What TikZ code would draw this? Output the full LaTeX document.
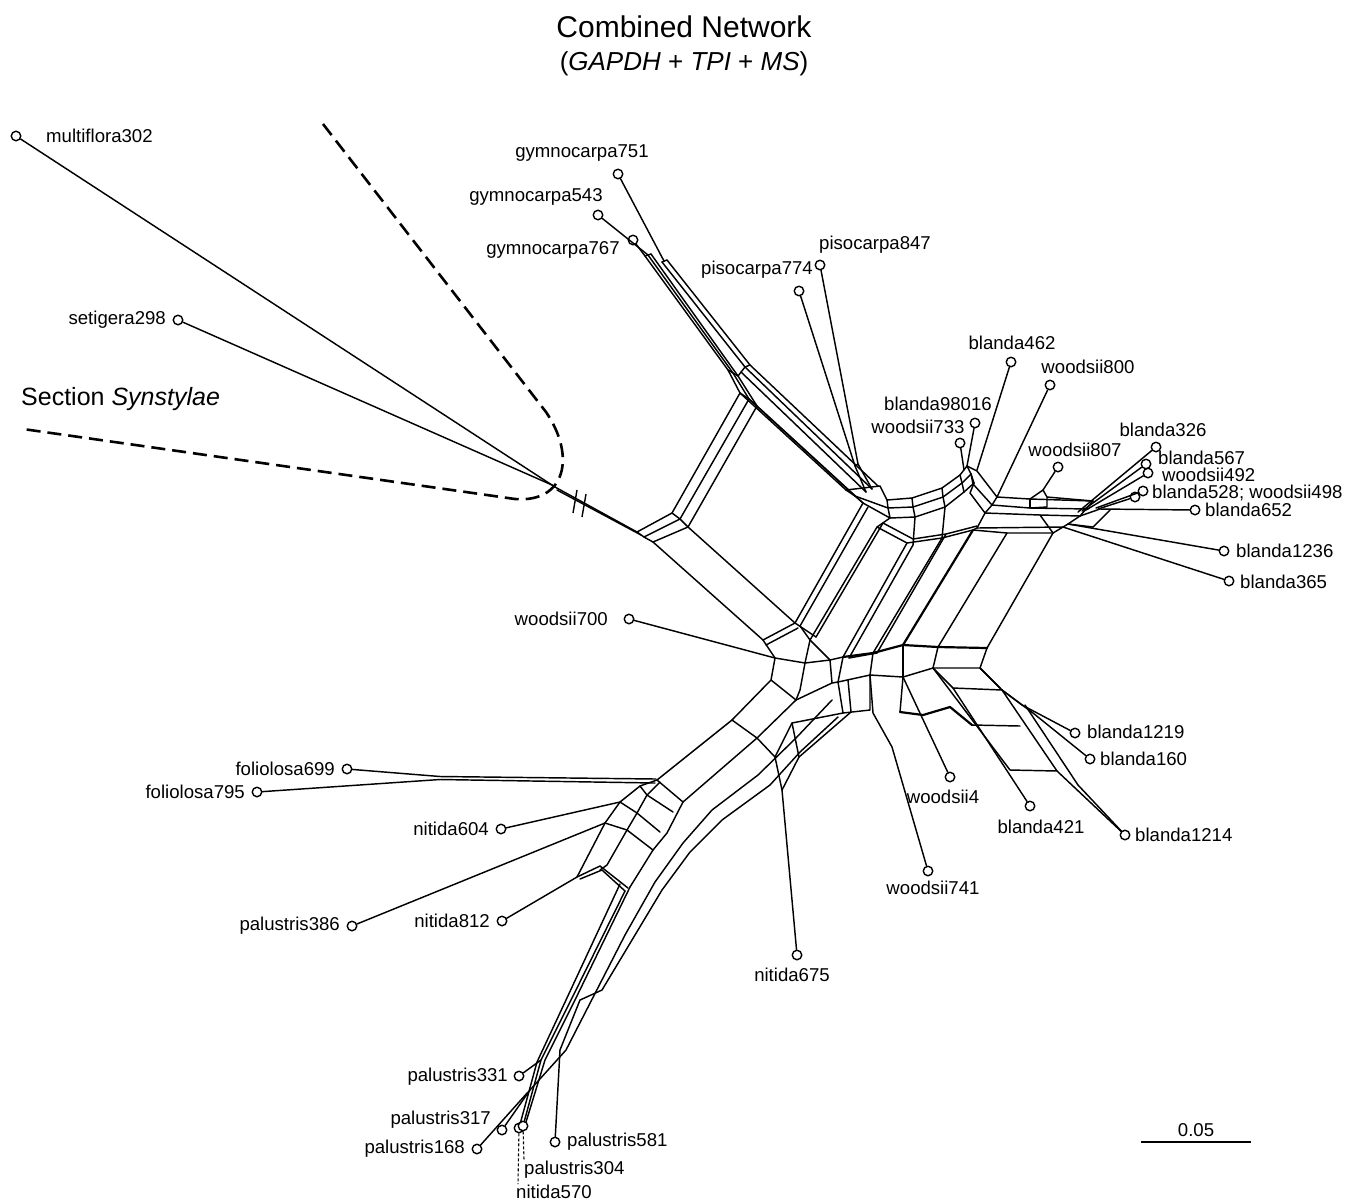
\documentclass[tikz,border=0pt]{standalone}
\usepackage{fontspec}
\setmainfont{Liberation Sans}
\begin{document}
\begin{tikzpicture}[x=1pt,y=-1pt,
  net/.style={line width=1.45pt,line join=round,line cap=round},
  thick net/.style={line width=2.2pt,line join=round,line cap=round},
  leaf/.style={circle,draw,fill=white,inner sep=0pt,minimum size=9.5pt,line width=1.4pt},
  lab/.style={font=\fontsize{18.6}{22}\selectfont,inner sep=0pt},
  leader/.style={line width=1.1pt,dash pattern=on 3pt off 2pt},
  synst/.style={line width=2.6pt,dash pattern=on 14pt off 7pt}]
\useasboundingbox (0,0) rectangle (1356,1203);
% titles
\node[font=\fontsize{30}{36}\selectfont,inner sep=0pt] (title) at (684,27) {Combined Network};
\node[font=\fontsize{26}{31}\selectfont,inner sep=0pt] (subtitle) at (684,64) {(\textit{GAPDH} + \textit{TPI} + \textit{MS})};
\node[font=\fontsize{25}{30}\selectfont,inner sep=0pt,anchor=west] (sect) at (21,399) {Section \textit{Synstylae}};
% leaves
\node[leaf] (m302) at (16,136) {};   \node[lab,anchor=west] (m302l) at (46,136) {multiflora302};
\node[leaf] (s298) at (178,320) {};  \node[lab,anchor=east] (s298l) at (166,320) {setigera298};
\node[leaf] (g751) at (618,174) {};  \node[lab] (g751l) at (582,153) {gymnocarpa751};
\node[leaf] (g543) at (598,215) {};  \node[lab] (g543l) at (536,197) {gymnocarpa543};
\node[leaf] (g767) at (633,240) {};  \node[lab] (g767l) at (553,250) {gymnocarpa767};
\node[leaf] (p847) at (820,265) {};  \node[lab] (p847l) at (875,245) {pisocarpa847};
\node[leaf] (p774) at (799,291) {};  \node[lab] (p774l) at (757,270) {pisocarpa774};
\node[leaf] (b462) at (1011,362) {}; \node[lab] (b462l) at (1012,343) {blanda462};
\node[leaf] (w800) at (1050,385) {}; \node[lab] (w800l) at (1088,367) {woodsii800};
\node[leaf] (b98016) at (975,423) {}; \node[lab] (b98016l) at (938,404) {blanda98016};
\node[leaf] (w733) at (960,443) {};  \node[lab] (w733l) at (918,427) {woodsii733};
\node[leaf] (w807) at (1058,467) {}; \node[lab] (w807l) at (1075,450) {woodsii807};
\node[leaf] (b326) at (1156,447) {}; \node[lab] (b326l) at (1163,430) {blanda326};
\node[leaf] (b567) at (1146,464) {}; \node[lab,anchor=west] (b567l) at (1158,457.5) {blanda567};
\node[leaf] (w492) at (1148,473) {}; \node[lab,anchor=west] (w492l) at (1162,475) {woodsii492};
\node[leaf] (b528) at (1143,491) {}; \node[leaf] (w498) at (1135,497) {};
\node[lab,anchor=west] (b528l) at (1152,492.5) {blanda528; woodsii498};
\node[leaf] (b652) at (1195,510) {}; \node[lab,anchor=west] (b652l) at (1205,510) {blanda652};
\node[leaf] (b1236) at (1224,551) {}; \node[lab,anchor=west] (b1236l) at (1236,551) {blanda1236};
\node[leaf] (b365) at (1229,581) {}; \node[lab,anchor=west] (b365l) at (1240,582) {blanda365};
\node[leaf] (w700) at (629,619) {};  \node[lab,anchor=east] (w700l) at (608,619) {woodsii700};
\node[leaf] (b1219) at (1075,733) {}; \node[lab,anchor=west] (b1219l) at (1087,732) {blanda1219};
\node[leaf] (b160) at (1090,759) {}; \node[lab,anchor=west] (b160l) at (1100,759) {blanda160};
\node[leaf] (b1214) at (1125,835) {}; \node[lab,anchor=west] (b1214l) at (1135,835) {blanda1214};
\node[leaf] (w4) at (950,777) {};    \node[lab] (w4l) at (943,797) {woodsii4};
\node[leaf] (b421) at (1030,806) {}; \node[lab] (b421l) at (1041,827) {blanda421};
\node[leaf] (w741) at (928,871) {};  \node[lab] (w741l) at (933,888) {woodsii741};
\node[leaf] (n675) at (797,955) {};  \node[lab] (n675l) at (792,975) {nitida675};
\node[leaf] (f699) at (347,769) {};  \node[lab,anchor=east] (f699l) at (335,769) {foliolosa699};
\node[leaf] (f795) at (257,792) {};  \node[lab,anchor=east] (f795l) at (245,792) {foliolosa795};
\node[leaf] (n604) at (501,829) {};  \node[lab,anchor=east] (n604l) at (489,829) {nitida604};
\node[leaf] (p386) at (352,926) {};  \node[lab,anchor=east] (p386l) at (340,926) {palustris386};
\node[leaf] (n812) at (502,921) {};  \node[lab,anchor=east] (n812l) at (490,921) {nitida812};
\node[leaf] (p331) at (519,1076) {}; \node[lab,anchor=east] (p331l) at (508,1077) {palustris331};
\node[leaf] (p317) at (502,1130) {}; \node[lab,anchor=east] (p317l) at (491,1120) {palustris317};
\node[leaf] (p168) at (477,1149) {}; \node[lab,anchor=east] (p168l) at (465,1149) {palustris168};
\node[leaf] (n570) at (519,1128) {}; \node[leaf] (p304) at (523,1126) {};
\node[lab,anchor=west] (p304l) at (524,1170) {palustris304};
\node[lab,anchor=west] (n570l) at (516,1192) {nitida570};
\node[leaf] (p581) at (555,1142) {}; \node[lab,anchor=west] (p581l) at (567,1142) {palustris581};
\coordinate (n570e) at (518,1184);
\coordinate (p304e) at (524,1160);
\draw[leader] (n570) -- (n570e);
\draw[leader] (p304) -- (p304e);
% scale bar
\coordinate (sb1) at (1141,1142); \coordinate (sb2) at (1251,1142);
\draw[line width=2.4pt] (sb1) -- (sb2);
\node[lab] (sbl) at (1196,1130) {0.05};
% Synstylae dashed boundary
\draw[synst] (323,124) -- (546,412) .. controls (576,456) and (566,503) .. (515,499) -- (23,429);
% root
\coordinate (A1) at (637,532); \coordinate (A2) at (644,537); \coordinate (A3) at (653,542);
\draw[net] (m302) -- (555,487) -- (A1);
\draw[net] (s298) -- (552,485) -- (555,487);
\draw[net] (557,490) -- (641,535);
\draw[line width=1.4pt] (577,490) -- (573,513) (586,494) -- (582,517);
% big square
\coordinate (B1) at (672,513); \coordinate (B2) at (680,519); \coordinate (B3) at (688,527);
\coordinate (C1) at (740,393); \coordinate (C2) at (749,399); \coordinate (C3) at (757,406);
\coordinate (R1) at (846,490); \coordinate (R2) at (855,496); \coordinate (R3) at (863,503);
\coordinate (D1) at (763,640); \coordinate (D2) at (795,623);
\draw[net] (A1) -- (A2) -- (A3);
\draw[net] (A1) -- (B1) -- (C1) -- (R1);
\draw[net] (A2) -- (B2) -- (C2) -- (R2);
\draw[net] (A3) -- (B3) -- (C3) -- (R3);
\draw[net] (B1) -- (B2) -- (B3);
\draw[net] (C1) -- (C2) -- (C3);
\draw[net] (R1) -- (R2) -- (R3);
\draw[net] (A3) -- (D1) -- (D2) -- (B3);
\draw[net] (766,645) -- (798,628);
\draw[net] (R3) -- (D2);
\draw[net] (868,507) -- (800,626);
% gymnocarpa bundle
\draw[net] (g767) -- (645,256) -- (728,370) -- (C1);
\draw[net] (g543) -- (648,255) -- (733,373) -- (C2);
\draw[net] (651,254) -- (738,376) -- (C3);
\draw[net] (645,256) -- (648,255) -- (651,254);
\draw[net] (g751) -- (664,261);
\draw[net] (662,262) -- (745,367) -- (872,489);
\draw[net] (667,260) -- (750,365) -- (878,486);
\draw[net] (662,262) -- (667,260);
\draw[net] (728,370) -- (733,373) -- (738,376) -- (745,367) -- (750,365);
\draw[net] (741,372) -- (866,492);
% pisocarpa
\draw[net] (p847) -- (858,464) -- (872,489);
\draw[net] (p774) -- (855,466) -- (866,492);
\draw[net] (858,464) -- (855,466);
% central ring
\draw[net] (R1) -- (880,486) -- (887,500) -- (912,498) -- (942,488) -- (960,475) -- (967,466);
\draw[net] (R2) -- (888,508) -- (913,507) -- (943,497) -- (962,483) -- (971,474);
\draw[net] (R3) -- (890,518) -- (915,517) -- (945,507) -- (964,492) -- (974,483);
\draw[net] (887,500) -- (888,508) -- (890,518);
\draw[net] (912,498) -- (913,507) -- (915,517);
\draw[net] (942,488) -- (943,497) -- (945,507);
\draw[net] (960,475) -- (962,483) -- (964,492);
\draw[net] (967,466) -- (971,474) -- (974,483);
\draw[net] (b98016) -- (967,466);
\draw[net] (w733) -- (964,470);
\draw[net] (b462) -- (977,470);
\draw[net] (w800) -- (997,497);
% right band
\draw[net] (967,466) -- (977,471) -- (997,497) -- (1030,499) -- (1093,501);
\draw[net] (971,474) -- (973,484) -- (992,505) -- (1030,508) -- (1088,509);
\draw[net] (974,483) -- (970,493) -- (985,513) -- (1040,515) -- (1080,516);
\draw[net] (997,497) -- (992,505) -- (985,513);
\draw[net] (1030,499) -- (1030,508);
\draw[net] (1030,499) -- (1043,490) -- (1047,497) -- (1047,507) -- (1030,508);
\draw[net] (w807) -- (1043,490);
\draw[net] (1047,497) -- (1093,501);
% blanda fan
\draw[net] (b326) -- (1078,512);
\draw[net] (b567) -- (1082,511);
\draw[net] (w492) -- (1086,510);
\draw[net] (b528) -- (1096,508);
\draw[net] (w498) -- (1098,509);
\draw[net] (b652) -- (1100,509) -- (1080,516);
\draw[net] (1093,501) -- (1080,516);
\draw[net] (b1236) -- (1068,524);
\draw[net] (b365) -- (1063,527);
\draw[net] (1080,516) -- (1068,524) -- (1063,527) -- (977,528);
\draw[net] (1093,527) -- (1110,510);
\draw[net] (1068,524) -- (1093,527);
% bottom of ring zigzag and strands
\draw[net] (890,518) -- (877,527) -- (907,543) -- (942,538) -- (973,530) -- (1007,533) -- (1053,533) -- (1063,527);
\draw[net] (915,517) -- (913,545);
\draw[net] (945,507) -- (942,538);
\draw[net] (985,513) -- (977,528) -- (973,530);
\draw[net] (1040,515) -- (1053,533);
\draw[net] (883,523) -- (913,539) -- (946,534) -- (977,526);
\draw[net] (877,527) -- (810,640);
\draw[net] (883,523) -- (816,637);
\draw[net] (907,543) -- (843,657);
\draw[net] (913,545) -- (849,658);
\draw[net] (942,538) -- (873,653);
\draw[net] (946,534) -- (877,653);
\draw[thick net] (973,530) -- (903,645);
\draw[net] (1007,533) -- (938,647);
\draw[net] (1053,533) -- (987,648);
% lower zigzag rows
\draw[thick net] (843,657) -- (873,653) -- (903,645) -- (938,647) -- (987,648);
\draw[net] (849,658) -- (877,653);
\draw[net] (800,626) -- (810,640) -- (830,660) -- (843,657);
\draw[net] (795,623) -- (816,637);
\draw[net] (838,682) -- (870,675) -- (903,677) -- (933,668) -- (980,668);
\draw[net] (843,657) -- (838,682);
\draw[net] (873,653) -- (870,675);
\draw[net] (903,645) -- (903,677);
\draw[net] (938,647) -- (933,668);
\draw[net] (987,648) -- (980,668);
\draw[net] (830,660) -- (832,683) -- (838,682);
% hexagon below square corner
\draw[net] (D1) -- (775,658) -- (771,680) -- (796,700) -- (832,683);
\draw[net] (w700) -- (775,658);
\draw[net] (775,658) -- (805,663) -- (810,640);
\draw[net] (805,663) -- (800,690) -- (796,700);
\draw[net] (805,663) -- (830,660);
% lower-centre boxes
\draw[net] (838,682) -- (843,713) -- (870,710) -- (870,675);
\draw[net] (848,680) -- (851,712);
\draw[net] (w741) -- (892,747) -- (873,713) -- (870,675);
\draw[net] (w4) -- (903,677);
\draw[thick net] (900,712) -- (923,715) -- (950,707) -- (972,725);
\draw[net] (903,677) -- (900,712);
\draw[net] (933,668) -- (953,688) -- (1002,690) -- (980,668);
\draw[net] (b421) -- (953,688);
\draw[net] (933,668) -- (1010,770) -- (1057,771) -- (1002,690);
\draw[net] (972,725) -- (1020,726);
\draw[net] (b1219) -- (1022,705) -- (1002,690);
\draw[net] (b160) -- (1033,713) -- (1002,690);
\draw[net] (b1214) -- (1057,771);
\draw[net] (b1214) -- (1078,785) -- (1025,705);
\draw[net] (980,668) -- (1000,688);
% nitida675
\draw[net] (n675) -- (782,790) -- (775,757) -- (792,723) -- (843,713);
\draw[net] (782,790) -- (799,757) -- (792,723);
\draw[net] (799,757) -- (851,712);
% lower-left arm
\coordinate (P0) at (657,780); \coordinate (P1) at (683,802);
\draw[net] (771,680) -- (732,720) -- (P0);
\draw[net] (796,700) -- (757,738) -- (P1);
\draw[net] (732,720) -- (757,738) -- (775,757);
\draw[net] (P0) -- (P1);
\draw[net] (f699) -- (440,776.5) -- (656,779);
\draw[net] (f795) -- (440,779.5) -- (655,783);
\draw[net] (P0) -- (640,786) -- (620,802) -- (605,823) -- (577,877);
\draw[net] (660,782) -- (647,795) -- (637,813) -- (627,830) -- (607,865) -- (600,870);
\draw[net] (P1) -- (667,833) -- (653,850) -- (630,887);
\draw[net] (640,786) -- (647,795) -- (673,812);
\draw[net] (620,802) -- (637,813) -- (660,832);
\draw[net] (605,823) -- (627,830) -- (653,850);
\draw[net] (577,877) -- (600,866) -- (628,888);
\draw[net] (580,879) -- (602,870) -- (625,891);
\draw[net] (n604) -- (620,802);
\draw[net] (p386) -- (605,823);
\draw[net] (n812) -- (577,877);
\draw[net] (838,717) -- (800,752) -- (770,785) -- (722,820) -- (690,852) -- (662,890) -- (632,940) -- (602,990) -- (580,1000);
\draw[net] (832,700) -- (796,738) -- (758,775) -- (712,810) -- (683,843) -- (655,882) -- (625,935);
% long strand to palustris
\draw[net] (630,887) -- (575,1000) -- (545,1060) -- (526,1122);
\draw[net] (625,891) -- (571,1000) -- (541,1060) -- (p304);
\draw[net] (620,884) -- (566,1000) -- (537,1062) -- (n570);
\draw[net] (625,935) -- (566,1050) -- (530,1090);
\draw[net] (580,1000) -- (560,1050);
\draw[net] (p581) -- (560,1050);
\draw[net] (p331) -- (541,1060);
\draw[net] (p317) -- (530,1090);
\draw[net] (p168) -- (528,1092);
\end{tikzpicture}
\end{document}
